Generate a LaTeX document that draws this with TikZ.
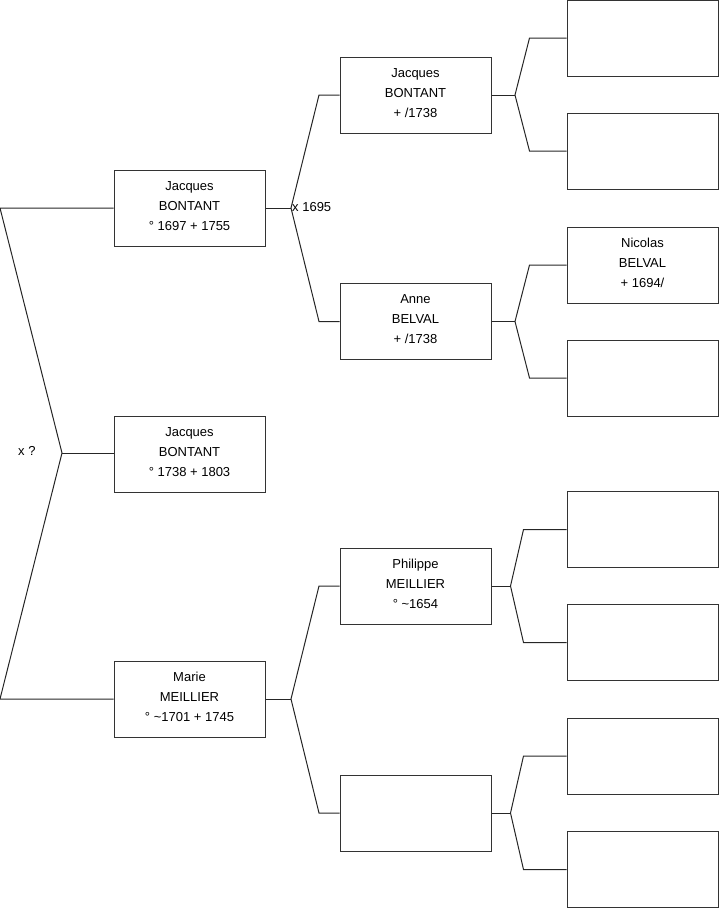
\documentclass[tikz,border=0pt]{standalone}
\usepackage{fontspec}
\setmainfont{Liberation Sans}
\newcommand{\dn}{\rule[-4pt]{0pt}{0pt}}
\begin{document}
\begin{tikzpicture}[x=1pt,y=-1pt,
  person/.style={draw=black!80,line width=1pt,rectangle,minimum width=151pt,minimum height=76pt,
    inner sep=0pt,align=center,font=\fontsize{13pt}{20pt}\selectfont,fill=white},
  link/.style={draw=black!85,line width=1pt,line join=miter},
  lbl/.style={font=\fontsize{13pt}{14pt}\selectfont,inner sep=0pt}]
\useasboundingbox (0,0) rectangle (719,908);
% column 1
\node[person] (a1) at (189.5,208) {Jacques\\BONTANT\\° 1697 + 1755\dn};
\node[person] (a2) at (189.5,454) {Jacques\\BONTANT\\° 1738 + 1803\dn};
\node[person] (a3) at (189.5,699) {Marie\\MEILLIER\\° \textasciitilde1701 + 1745\dn};
% column 2
\node[person] (b1) at (415.5,95) {Jacques\\BONTANT\\+ /1738\dn};
\node[person] (b2) at (415.5,321.5) {Anne\\BELVAL\\+ /1738\dn};
\node[person] (b3) at (415.5,586) {Philippe\\MEILLIER\\° \textasciitilde1654\dn};
\node[person] (b4) at (415.5,813) {};
% column 3
\node[person] (c1) at (642.5,38) {};
\node[person] (c2) at (642.5,151) {};
\node[person] (c3) at (642.5,265) {Nicolas\\BELVAL\\+ 1694/\dn};
\node[person] (c4) at (642.5,378) {};
\node[person] (c5) at (642.5,529.5) {};
\node[person] (c6) at (642.5,642.5) {};
\node[person] (c7) at (642.5,756) {};
\node[person] (c8) at (642.5,869.5) {};
% left bracket
\coordinate (L1) at (0,208);
\coordinate (L2) at (62,453);
\coordinate (L3) at (0,699);
\draw[link] (a1.west) -- (L1) -- (L2) -- (L3) -- (a3.west);
\draw[link] (L2) -- (L2 -| a2.west);
\node[lbl,anchor=west] (xq) at (18,451) {x ?};
% a1 -> b1,b2
\coordinate (J1) at (291,208);
\coordinate (J1u) at (319,95);
\coordinate (J1d) at (319,321.5);
\draw[link] (a1.east) -- (J1);
\draw[link] (b1.west) -- (J1u) -- (J1) -- (J1d) -- (b2.west);
\node[lbl,anchor=west] (x1695) at (292,207) {x 1695};
% a3 -> b3,b4
\coordinate (J3) at (291,699);
\coordinate (J3u) at (319,586);
\coordinate (J3d) at (319,813);
\draw[link] (a3.east) -- (J3);
\draw[link] (b3.west) -- (J3u) -- (J3) -- (J3d) -- (b4.west);
% b1 -> c1,c2
\coordinate (K1) at (515,95);
\coordinate (K1u) at (529.5,38);
\coordinate (K1d) at (529.5,151);
\draw[link] (b1.east) -- (K1);
\draw[link] (c1.west) -- (K1u) -- (K1) -- (K1d) -- (c2.west);
% b2 -> c3,c4
\coordinate (K2) at (515,321.5);
\coordinate (K2u) at (529.5,265);
\coordinate (K2d) at (529.5,378);
\draw[link] (b2.east) -- (K2);
\draw[link] (c3.west) -- (K2u) -- (K2) -- (K2d) -- (c4.west);
% b3 -> c5,c6
\coordinate (K3) at (510.5,586);
\coordinate (K3u) at (523.5,529.5);
\coordinate (K3d) at (523.5,642.5);
\draw[link] (b3.east) -- (K3);
\draw[link] (c5.west) -- (K3u) -- (K3) -- (K3d) -- (c6.west);
% b4 -> c7,c8
\coordinate (K4) at (510.5,813);
\coordinate (K4u) at (523.5,756);
\coordinate (K4d) at (523.5,869.5);
\draw[link] (b4.east) -- (K4);
\draw[link] (c7.west) -- (K4u) -- (K4) -- (K4d) -- (c8.west);
\end{tikzpicture}
\end{document}
